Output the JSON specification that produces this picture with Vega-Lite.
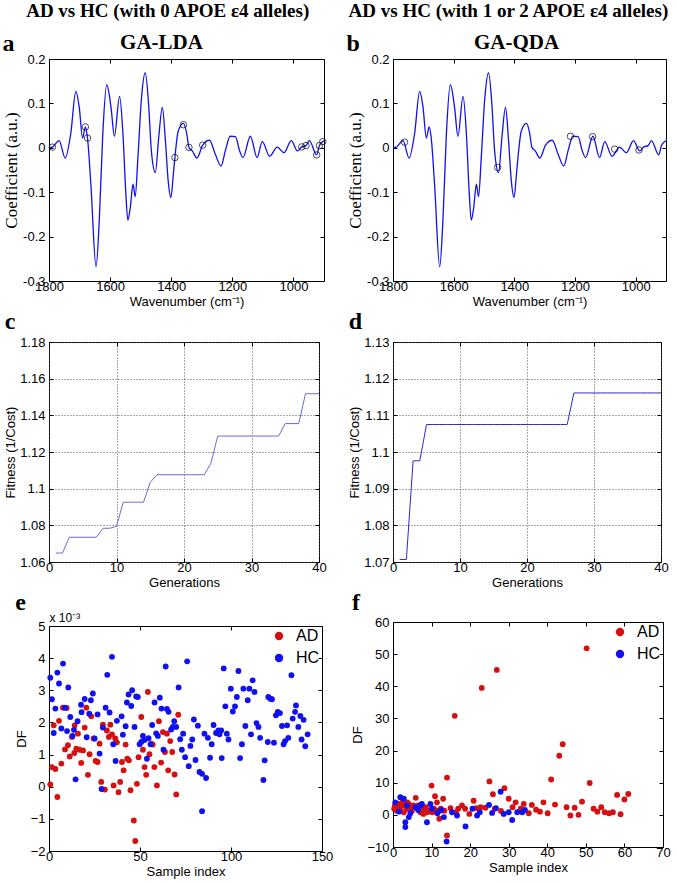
{
"$schema": "https://vega.github.io/schema/vega-lite/v6.json",
"padding": {"left": 2, "top": 2, "right": 2, "bottom": 0},
"background": "white",
"config": {
  "view": {"stroke": "#000", "strokeWidth": 1},
  "axis": {"domain": false, "grid": false, "tickColor": "#000", "tickSize": -4, "labelColor": "#000", "titleColor": "#000", "labelFont": "Liberation Sans", "titleFont": "Liberation Sans", "titleFontWeight": "normal", "labelFontSize": 13, "titleFontSize": 13, "labelPadding": 3, "titlePadding": 2, "labelFlush": false, "labelOverlap": false, "labelBound": false},
  "axisLeft": {"labelPadding": 8},
  "title": {"font": "Liberation Serif", "fontWeight": "bold", "color": "#000"},
  "legend": {"labelFont": "Liberation Sans", "labelFontSize": 16, "labelColor": "#000", "symbolSize": 70, "symbolType": "circle", "rowPadding": 6, "labelOffset": 9, "offset": 2}
},
"datasets": {
  "spectrum": [
    {"wn":1800,"coef":0.0},{"wn":1789,"coef":0.0015},{"wn":1767,"coef":0.016},{"wn":1747,"coef":-0.023},{"wn":1729,"coef":0.031},{"wn":1712,"coef":0.127},{"wn":1701,"coef":0.091},{"wn":1690,"coef":0.022},{"wn":1681,"coef":0.047},{"wn":1674,"coef":0.022},{"wn":1663,"coef":-0.082},{"wn":1646,"coef":-0.268},{"wn":1635,"coef":-0.157},{"wn":1624,"coef":0.031},{"wn":1611,"coef":0.142},{"wn":1597,"coef":0.091},{"wn":1586,"coef":0.026},{"wn":1569,"coef":0.116},{"wn":1558,"coef":0.031},{"wn":1549,"coef":-0.097},{"wn":1542,"coef":-0.163},{"wn":1534,"coef":-0.135},{"wn":1525,"coef":-0.082},{"wn":1518,"coef":-0.110},{"wn":1509,"coef":-0.022},{"wn":1498,"coef":0.106},{"wn":1485,"coef":0.169},{"wn":1474,"coef":0.098},{"wn":1465,"coef":-0.007},{"wn":1452,"coef":-0.056},{"wn":1441,"coef":0.023},{"wn":1429,"coef":0.091},{"wn":1419,"coef":0.016},{"wn":1410,"coef":-0.074},{"wn":1401,"coef":-0.112},{"wn":1393,"coef":-0.059},{"wn":1388,"coef":-0.022},{"wn":1377,"coef":0.038},{"wn":1360,"coef":0.055},{"wn":1349,"coef":0.031},{"wn":1342,"coef":0.001},{"wn":1331,"coef":-0.007},{"wn":1316,"coef":-0.023},{"wn":1297,"coef":0.006},{"wn":1275,"coef":0.017},{"wn":1256,"coef":-0.014},{"wn":1237,"coef":-0.041},{"wn":1223,"coef":-0.007},{"wn":1207,"coef":0.026},{"wn":1190,"coef":0.025},{"wn":1176,"coef":-0.007},{"wn":1165,"coef":-0.022},{"wn":1141,"coef":0.026},{"wn":1119,"coef":-0.022},{"wn":1102,"coef":0.014},{"wn":1078,"coef":-0.019},{"wn":1053,"coef":0.0015},{"wn":1031,"coef":-0.011},{"wn":1007,"coef":0.016},{"wn":987,"coef":-0.007},{"wn":973,"coef":0.002},{"wn":959,"coef":0.005},{"wn":948,"coef":0.016},{"wn":924,"coef":-0.016},{"wn":915,"coef":0.005},{"wn":904,"coef":0.014},{"wn":897,"coef":0.017}
  ],
  "selA": [
    {"wn":1789,"coef":0.0015},{"wn":1681,"coef":0.047},{"wn":1674,"coef":0.022},{"wn":1388,"coef":-0.022},{"wn":1360,"coef":0.052},{"wn":1342,"coef":0.001},{"wn":1297,"coef":0.006},{"wn":973,"coef":0.002},{"wn":959,"coef":0.005},{"wn":924,"coef":-0.016},{"wn":915,"coef":0.005},{"wn":904,"coef":0.014}
  ],
  "selB": [
    {"wn":1762,"coef":0.0127},{"wn":1455,"coef":-0.044},{"wn":1215,"coef":0.026},{"wn":1142,"coef":0.025},{"wn":1069,"coef":-0.003},{"wn":989,"coef":-0.005}
  ],
  "fitC": [
    {"gen":1,"fit":1.0649},{"gen":2,"fit":1.0649},{"gen":3,"fit":1.0735},{"gen":4,"fit":1.0735},{"gen":5,"fit":1.0735},{"gen":6,"fit":1.0735},{"gen":7,"fit":1.0735},{"gen":8,"fit":1.0784},{"gen":9,"fit":1.0784},{"gen":10,"fit":1.0795},{"gen":11,"fit":1.0926},{"gen":12,"fit":1.0926},{"gen":13,"fit":1.0926},{"gen":14,"fit":1.0926},{"gen":15,"fit":1.1035},{"gen":16,"fit":1.1076},{"gen":17,"fit":1.1076},{"gen":18,"fit":1.1076},{"gen":19,"fit":1.1076},{"gen":20,"fit":1.1076},{"gen":21,"fit":1.1076},{"gen":22,"fit":1.1076},{"gen":23,"fit":1.1076},{"gen":24,"fit":1.114},{"gen":25,"fit":1.1287},{"gen":26,"fit":1.1287},{"gen":27,"fit":1.1287},{"gen":28,"fit":1.1287},{"gen":29,"fit":1.1287},{"gen":30,"fit":1.1287},{"gen":31,"fit":1.1287},{"gen":32,"fit":1.1287},{"gen":33,"fit":1.1287},{"gen":34,"fit":1.1287},{"gen":35,"fit":1.1355},{"gen":36,"fit":1.1355},{"gen":37,"fit":1.1355},{"gen":38,"fit":1.1518},{"gen":39,"fit":1.1518},{"gen":40,"fit":1.1518}
  ],
  "fitD": [
    {"gen":1,"fit":1.0707},{"gen":2,"fit":1.0707},{"gen":3,"fit":1.0976},{"gen":4,"fit":1.0976},{"gen":5,"fit":1.1075},{"gen":6,"fit":1.1075},{"gen":7,"fit":1.1075},{"gen":8,"fit":1.1075},{"gen":9,"fit":1.1075},{"gen":10,"fit":1.1075},{"gen":11,"fit":1.1075},{"gen":12,"fit":1.1075},{"gen":13,"fit":1.1075},{"gen":14,"fit":1.1075},{"gen":15,"fit":1.1075},{"gen":16,"fit":1.1075},{"gen":17,"fit":1.1075},{"gen":18,"fit":1.1075},{"gen":19,"fit":1.1075},{"gen":20,"fit":1.1075},{"gen":21,"fit":1.1075},{"gen":22,"fit":1.1075},{"gen":23,"fit":1.1075},{"gen":24,"fit":1.1075},{"gen":25,"fit":1.1075},{"gen":26,"fit":1.1075},{"gen":27,"fit":1.1161},{"gen":28,"fit":1.1161},{"gen":29,"fit":1.1161},{"gen":30,"fit":1.1161},{"gen":31,"fit":1.1161},{"gen":32,"fit":1.1161},{"gen":33,"fit":1.1161},{"gen":34,"fit":1.1161},{"gen":35,"fit":1.1161},{"gen":36,"fit":1.1161},{"gen":37,"fit":1.1161},{"gen":38,"fit":1.1161},{"gen":39,"fit":1.1161},{"gen":40,"fit":1.1161}
  ],
  "dfE": [
    {"i":0.7,"v":0.07,"g":"AD"},{"i":1.6,"v":0.61,"g":"AD"},{"i":2.6,"v":1.91,"g":"AD"},{"i":3.5,"v":0.55,"g":"AD"},{"i":4.6,"v":-0.32,"g":"AD"},{"i":5.5,"v":2.05,"g":"AD"},{"i":6.8,"v":0.72,"g":"AD"},{"i":7.7,"v":2.46,"g":"AD"},{"i":8.8,"v":1.16,"g":"AD"},{"i":9.7,"v":2.45,"g":"AD"},{"i":10.4,"v":1.29,"g":"AD"},{"i":11.4,"v":0.94,"g":"AD"},{"i":12.6,"v":1.55,"g":"AD"},{"i":13.9,"v":1.05,"g":"AD"},{"i":14.1,"v":1.91,"g":"AD"},{"i":15.0,"v":1.18,"g":"AD"},{"i":15.9,"v":1.65,"g":"AD"},{"i":16.8,"v":1.15,"g":"AD"},{"i":17.7,"v":0.74,"g":"AD"},{"i":18.7,"v":1.13,"g":"AD"},{"i":19.6,"v":1.84,"g":"AD"},{"i":20.5,"v":2.46,"g":"AD"},{"i":21.4,"v":0.37,"g":"AD"},{"i":22.3,"v":1.01,"g":"AD"},{"i":23.2,"v":2.19,"g":"AD"},{"i":24.5,"v":1.50,"g":"AD"},{"i":25.6,"v":0.80,"g":"AD"},{"i":26.7,"v":0.77,"g":"AD"},{"i":27.8,"v":1.34,"g":"AD"},{"i":28.7,"v":0.15,"g":"AD"},{"i":29.6,"v":1.93,"g":"AD"},{"i":30.7,"v":-0.09,"g":"AD"},{"i":31.8,"v":1.75,"g":"AD"},{"i":32.9,"v":1.55,"g":"AD"},{"i":33.7,"v":1.93,"g":"AD"},{"i":34.6,"v":1.63,"g":"AD"},{"i":35.5,"v":0.04,"g":"AD"},{"i":36.4,"v":1.50,"g":"AD"},{"i":37.3,"v":1.38,"g":"AD"},{"i":38.2,"v":-0.17,"g":"AD"},{"i":39.1,"v":0.15,"g":"AD"},{"i":40.1,"v":0.77,"g":"AD"},{"i":41.0,"v":0.51,"g":"AD"},{"i":42.1,"v":1.31,"g":"AD"},{"i":43.0,"v":0.87,"g":"AD"},{"i":43.9,"v":0.82,"g":"AD"},{"i":44.8,"v":-0.11,"g":"AD"},{"i":46.6,"v":-1.05,"g":"AD"},{"i":47.4,"v":-1.69,"g":"AD"},{"i":48.3,"v":0.09,"g":"AD"},{"i":49.2,"v":0.92,"g":"AD"},{"i":50.7,"v":2.17,"g":"AD"},{"i":51.6,"v":1.15,"g":"AD"},{"i":52.5,"v":0.61,"g":"AD"},{"i":53.4,"v":0.37,"g":"AD"},{"i":54.3,"v":2.95,"g":"AD"},{"i":55.2,"v":1.01,"g":"AD"},{"i":56.2,"v":1.34,"g":"AD"},{"i":57.0,"v":1.31,"g":"AD"},{"i":57.9,"v":0.61,"g":"AD"},{"i":59.3,"v":0.04,"g":"AD"},{"i":60.4,"v":2.04,"g":"AD"},{"i":61.6,"v":0.75,"g":"AD"},{"i":62.6,"v":1.70,"g":"AD"},{"i":63.7,"v":1.08,"g":"AD"},{"i":64.8,"v":1.65,"g":"AD"},{"i":65.5,"v":0.51,"g":"AD"},{"i":66.6,"v":1.42,"g":"AD"},{"i":67.7,"v":1.08,"g":"AD"},{"i":69.0,"v":0.38,"g":"AD"},{"i":69.9,"v":-0.24,"g":"AD"},{"i":71.0,"v":2.24,"g":"AD"},
    {"i":0.7,"v":3.39,"g":"HC"},{"i":1.6,"v":2.72,"g":"HC"},{"i":2.6,"v":1.67,"g":"HC"},{"i":3.5,"v":2.43,"g":"HC"},{"i":4.6,"v":3.55,"g":"HC"},{"i":5.5,"v":3.21,"g":"HC"},{"i":6.8,"v":1.81,"g":"HC"},{"i":7.7,"v":3.83,"g":"HC"},{"i":8.8,"v":2.46,"g":"HC"},{"i":9.9,"v":1.73,"g":"HC"},{"i":10.6,"v":3.09,"g":"HC"},{"i":11.7,"v":2.17,"g":"HC"},{"i":12.9,"v":1.58,"g":"HC"},{"i":13.7,"v":1.77,"g":"HC"},{"i":14.6,"v":0.23,"g":"HC"},{"i":15.7,"v":2.04,"g":"HC"},{"i":17.6,"v":2.55,"g":"HC"},{"i":17.9,"v":2.32,"g":"HC"},{"i":19.6,"v":2.73,"g":"HC"},{"i":20.7,"v":1.54,"g":"HC"},{"i":22.1,"v":2.27,"g":"HC"},{"i":23.0,"v":2.69,"g":"HC"},{"i":24.1,"v":2.90,"g":"HC"},{"i":25.1,"v":1.50,"g":"HC"},{"i":26.7,"v":2.25,"g":"HC"},{"i":27.8,"v":1.03,"g":"HC"},{"i":28.9,"v":-0.07,"g":"HC"},{"i":29.6,"v":1.84,"g":"HC"},{"i":31.1,"v":2.46,"g":"HC"},{"i":32.0,"v":3.48,"g":"HC"},{"i":33.3,"v":2.31,"g":"HC"},{"i":34.6,"v":4.04,"g":"HC"},{"i":35.3,"v":1.32,"g":"HC"},{"i":36.6,"v":0.80,"g":"HC"},{"i":37.3,"v":2.05,"g":"HC"},{"i":39.9,"v":2.19,"g":"HC"},{"i":40.6,"v":1.62,"g":"HC"},{"i":42.1,"v":1.88,"g":"HC"},{"i":42.8,"v":2.62,"g":"HC"},{"i":43.7,"v":2.87,"g":"HC"},{"i":45.2,"v":2.51,"g":"HC"},{"i":45.7,"v":3.00,"g":"HC"},{"i":47.0,"v":1.86,"g":"HC"},{"i":47.9,"v":2.81,"g":"HC"},{"i":48.8,"v":2.79,"g":"HC"},{"i":49.8,"v":1.32,"g":"HC"},{"i":50.7,"v":1.39,"g":"HC"},{"i":51.6,"v":1.58,"g":"HC"},{"i":52.5,"v":1.45,"g":"HC"},{"i":53.8,"v":0.87,"g":"HC"},{"i":54.7,"v":1.51,"g":"HC"},{"i":55.8,"v":1.32,"g":"HC"},{"i":56.7,"v":1.92,"g":"HC"},{"i":58.0,"v":2.62,"g":"HC"},{"i":58.9,"v":1.66,"g":"HC"},{"i":59.8,"v":1.58,"g":"HC"},{"i":60.9,"v":2.77,"g":"HC"},{"i":61.8,"v":2.43,"g":"HC"},{"i":62.9,"v":1.15,"g":"HC"},{"i":64.1,"v":3.74,"g":"HC"},{"i":64.8,"v":2.42,"g":"HC"},{"i":65.7,"v":2.33,"g":"HC"},{"i":67.1,"v":1.78,"g":"HC"},{"i":68.0,"v":1.86,"g":"HC"},{"i":68.8,"v":2.04,"g":"HC"},{"i":69.9,"v":1.86,"g":"HC"},{"i":71.2,"v":3.09,"g":"HC"},{"i":72.1,"v":1.48,"g":"HC"},{"i":73.0,"v":1.15,"g":"HC"},{"i":73.7,"v":1.65,"g":"HC"},{"i":74.8,"v":0.92,"g":"HC"},{"i":75.9,"v":3.90,"g":"HC"},{"i":76.8,"v":0.64,"g":"HC"},{"i":77.7,"v":1.27,"g":"HC"},{"i":78.7,"v":1.47,"g":"HC"},{"i":79.6,"v":2.09,"g":"HC"},{"i":80.5,"v":0.83,"g":"HC"},{"i":81.8,"v":1.90,"g":"HC"},{"i":82.7,"v":0.46,"g":"HC"},{"i":84.1,"v":0.40,"g":"HC"},{"i":84.1,"v":-0.76,"g":"HC"},{"i":85.4,"v":1.65,"g":"HC"},{"i":86.3,"v":0.27,"g":"HC"},{"i":87.3,"v":1.52,"g":"HC"},{"i":88.5,"v":0.90,"g":"HC"},{"i":89.4,"v":1.32,"g":"HC"},{"i":90.4,"v":1.92,"g":"HC"},{"i":91.8,"v":1.67,"g":"HC"},{"i":93.1,"v":1.75,"g":"HC"},{"i":93.7,"v":1.63,"g":"HC"},{"i":94.6,"v":1.75,"g":"HC"},{"i":94.9,"v":0.89,"g":"HC"},{"i":96.0,"v":3.68,"g":"HC"},{"i":96.9,"v":2.50,"g":"HC"},{"i":97.7,"v":1.65,"g":"HC"},{"i":98.6,"v":1.47,"g":"HC"},{"i":99.9,"v":3.05,"g":"HC"},{"i":101.0,"v":2.34,"g":"HC"},{"i":102.2,"v":2.50,"g":"HC"},{"i":103.2,"v":2.79,"g":"HC"},{"i":104.1,"v":3.60,"g":"HC"},{"i":105.0,"v":0.89,"g":"HC"},{"i":106.0,"v":1.32,"g":"HC"},{"i":106.8,"v":3.05,"g":"HC"},{"i":107.9,"v":1.89,"g":"HC"},{"i":109.2,"v":2.69,"g":"HC"},{"i":110.1,"v":3.05,"g":"HC"},{"i":111.0,"v":1.63,"g":"HC"},{"i":111.9,"v":3.31,"g":"HC"},{"i":112.9,"v":2.95,"g":"HC"},{"i":114.0,"v":1.98,"g":"HC"},{"i":115.1,"v":1.86,"g":"HC"},{"i":116.0,"v":1.52,"g":"HC"},{"i":117.8,"v":0.21,"g":"HC"},{"i":118.5,"v":0.82,"g":"HC"},{"i":120.2,"v":1.39,"g":"HC"},{"i":120.5,"v":2.79,"g":"HC"},{"i":121.6,"v":2.74,"g":"HC"},{"i":122.5,"v":2.72,"g":"HC"},{"i":123.6,"v":1.37,"g":"HC"},{"i":124.7,"v":2.22,"g":"HC"},{"i":125.7,"v":2.33,"g":"HC"},{"i":126.9,"v":2.29,"g":"HC"},{"i":128.0,"v":1.89,"g":"HC"},{"i":128.9,"v":1.32,"g":"HC"},{"i":129.7,"v":1.42,"g":"HC"},{"i":130.8,"v":1.91,"g":"HC"},{"i":131.5,"v":1.52,"g":"HC"},{"i":133.2,"v":3.47,"g":"HC"},{"i":133.9,"v":2.12,"g":"HC"},{"i":135.2,"v":2.33,"g":"HC"},{"i":135.7,"v":2.53,"g":"HC"},{"i":137.0,"v":1.86,"g":"HC"},{"i":138.1,"v":2.20,"g":"HC"},{"i":138.8,"v":1.47,"g":"HC"},{"i":139.9,"v":2.08,"g":"HC"},{"i":140.8,"v":1.26,"g":"HC"},{"i":142.1,"v":1.63,"g":"HC"}
  ],
  "dfF": [
    {"i":0.3,"v":1.9,"g":"AD"},{"i":0.6,"v":2.4,"g":"AD"},{"i":0.5,"v":2.9,"g":"AD"},{"i":1.0,"v":1.3,"g":"AD"},{"i":1.4,"v":3.4,"g":"AD"},{"i":1.5,"v":1.3,"g":"AD"},{"i":2.0,"v":2.4,"g":"AD"},{"i":2.3,"v":2.9,"g":"AD"},{"i":2.4,"v":3.9,"g":"AD"},{"i":2.8,"v":0.8,"g":"AD"},{"i":3.3,"v":2.9,"g":"AD"},{"i":3.6,"v":1.9,"g":"AD"},{"i":3.7,"v":3.9,"g":"AD"},{"i":4.1,"v":3.4,"g":"AD"},{"i":4.2,"v":1.9,"g":"AD"},{"i":4.6,"v":2.4,"g":"AD"},{"i":4.9,"v":1.3,"g":"AD"},{"i":5.3,"v":2.9,"g":"AD"},{"i":5.8,"v":2.4,"g":"AD"},{"i":5.9,"v":5.3,"g":"AD"},{"i":6.5,"v":2.9,"g":"AD"},{"i":7.1,"v":0.8,"g":"AD"},{"i":7.2,"v":3.2,"g":"AD"},{"i":7.9,"v":0.3,"g":"AD"},{"i":8.0,"v":1.9,"g":"AD"},{"i":8.5,"v":2.4,"g":"AD"},{"i":8.9,"v":0.8,"g":"AD"},{"i":9.3,"v":1.3,"g":"AD"},{"i":10.0,"v":9.1,"g":"AD"},{"i":10.2,"v":0.8,"g":"AD"},{"i":10.6,"v":1.9,"g":"AD"},{"i":10.9,"v":5.8,"g":"AD"},{"i":11.4,"v":3.9,"g":"AD"},{"i":11.4,"v":1.3,"g":"AD"},{"i":12.0,"v":-1.2,"g":"AD"},{"i":12.3,"v":1.3,"g":"AD"},{"i":12.4,"v":1.9,"g":"AD"},{"i":13.0,"v":5.0,"g":"AD"},{"i":13.3,"v":1.3,"g":"AD"},{"i":14.0,"v":11.6,"g":"AD"},{"i":14.0,"v":-6.4,"g":"AD"},{"i":14.9,"v":2.1,"g":"AD"},{"i":16.0,"v":30.8,"g":"AD"},{"i":16.3,"v":0.8,"g":"AD"},{"i":16.9,"v":1.9,"g":"AD"},{"i":17.9,"v":2.9,"g":"AD"},{"i":18.7,"v":1.9,"g":"AD"},{"i":19.8,"v":0.3,"g":"AD"},{"i":20.9,"v":4.4,"g":"AD"},{"i":21.6,"v":2.1,"g":"AD"},{"i":22.7,"v":2.4,"g":"AD"},{"i":23.0,"v":39.5,"g":"AD"},{"i":24.0,"v":2.2,"g":"AD"},{"i":25.0,"v":10.4,"g":"AD"},{"i":25.9,"v":6.4,"g":"AD"},{"i":26.4,"v":1.9,"g":"AD"},{"i":26.9,"v":45.1,"g":"AD"},{"i":28.0,"v":1.2,"g":"AD"},{"i":28.9,"v":8.3,"g":"AD"},{"i":30.0,"v":5.0,"g":"AD"},{"i":31.0,"v":2.4,"g":"AD"},{"i":31.8,"v":3.9,"g":"AD"},{"i":33.1,"v":1.9,"g":"AD"},{"i":33.9,"v":3.4,"g":"AD"},{"i":35.2,"v":0.5,"g":"AD"},{"i":36.0,"v":3.1,"g":"AD"},{"i":37.1,"v":1.6,"g":"AD"},{"i":38.1,"v":1.0,"g":"AD"},{"i":39.0,"v":3.9,"g":"AD"},{"i":40.1,"v":0.5,"g":"AD"},{"i":41.0,"v":11.0,"g":"AD"},{"i":42.0,"v":3.2,"g":"AD"},{"i":43.1,"v":18.4,"g":"AD"},{"i":44.0,"v":22.0,"g":"AD"},{"i":45.0,"v":2.4,"g":"AD"},{"i":46.0,"v":-0.2,"g":"AD"},{"i":47.1,"v":2.2,"g":"AD"},{"i":48.1,"v":0.0,"g":"AD"},{"i":49.0,"v":4.1,"g":"AD"},{"i":50.2,"v":51.8,"g":"AD"},{"i":51.0,"v":9.9,"g":"AD"},{"i":52.0,"v":1.9,"g":"AD"},{"i":53.0,"v":1.0,"g":"AD"},{"i":54.0,"v":2.4,"g":"AD"},{"i":54.9,"v":0.8,"g":"AD"},{"i":56.0,"v":0.5,"g":"AD"},{"i":57.0,"v":0.8,"g":"AD"},{"i":58.1,"v":6.2,"g":"AD"},{"i":59.0,"v":0.2,"g":"AD"},{"i":60.0,"v":4.8,"g":"AD"},{"i":61.0,"v":6.5,"g":"AD"},
    {"i":0.6,"v":3.9,"g":"HC"},{"i":1.5,"v":1.0,"g":"HC"},{"i":1.9,"v":5.5,"g":"HC"},{"i":2.8,"v":5.0,"g":"HC"},{"i":3.2,"v":-2.3,"g":"HC"},{"i":3.2,"v":-3.8,"g":"HC"},{"i":3.6,"v":2.9,"g":"HC"},{"i":4.1,"v":-0.7,"g":"HC"},{"i":4.5,"v":0.5,"g":"HC"},{"i":5.8,"v":2.4,"g":"HC"},{"i":6.5,"v":1.5,"g":"HC"},{"i":7.1,"v":2.9,"g":"HC"},{"i":7.5,"v":3.4,"g":"HC"},{"i":8.8,"v":-2.3,"g":"HC"},{"i":9.7,"v":3.4,"g":"HC"},{"i":10.1,"v":1.9,"g":"HC"},{"i":11.5,"v":0.5,"g":"HC"},{"i":12.5,"v":1.5,"g":"HC"},{"i":13.2,"v":-0.7,"g":"HC"},{"i":13.9,"v":-8.3,"g":"HC"},{"i":15.3,"v":0.8,"g":"HC"},{"i":16.6,"v":-0.2,"g":"HC"},{"i":18.8,"v":-3.6,"g":"HC"},{"i":20.6,"v":1.9,"g":"HC"},{"i":21.8,"v":-0.2,"g":"HC"},{"i":22.5,"v":0.8,"g":"HC"},{"i":24.9,"v":3.1,"g":"HC"},{"i":25.7,"v":0.6,"g":"HC"},{"i":26.7,"v":2.1,"g":"HC"},{"i":27.9,"v":7.2,"g":"HC"},{"i":28.7,"v":0.3,"g":"HC"},{"i":30.0,"v":0.8,"g":"HC"},{"i":30.9,"v":-1.6,"g":"HC"},{"i":32.2,"v":0.8,"g":"HC"},{"i":33.5,"v":0.8,"g":"HC"},{"i":34.2,"v":1.5,"g":"HC"}
  ]
},
"spacing": 12,
"resolve": {"scale": {"color": "independent"}, "legend": {"color": "independent"}},
"hconcat": [
  {
    "title": {"text": "AD vs HC (with 0 APOE ε4 alleles)", "fontSize": 19, "anchor": "middle", "offset": 10},
    "spacing": 0,
    "resolve": {"scale": {"color": "independent"}, "legend": {"color": "independent"}},
    "vconcat": [
      {
        "width": 275, "height": 222,
        "title": {"text": "a", "anchor": "start", "frame": "bounds", "fontSize": 24, "offset": -24},
        "resolve": {"axis": {"x": "independent", "y": "independent"}},
        "layer": [
          {"data": {"name": "spectrum"}, "mark": {"type": "line", "color": "#1010f0", "strokeWidth": 1.3, "interpolate": "monotone"},
           "encoding": {
             "x": {"field": "wn", "type": "quantitative", "scale": {"domain": [900, 1800], "reverse": true, "nice": false}, "axis": {"orient": "bottom", "values": [1800, 1600, 1400, 1200, 1000], "format": "d", "title": "Wavenumber (cm⁻¹)"}},
             "y": {"field": "coef", "type": "quantitative", "scale": {"domain": [-0.3, 0.2], "nice": false, "zero": false}, "axis": {"orient": "left", "values": [-0.3, -0.2, -0.1, 0, 0.1, 0.2], "labelExpr": "toString(round(datum.value*10)/10)", "title": "Coefficient (a.u.)", "titleFont": "Liberation Serif", "titleFontSize": 17}}
           }},
          {"data": {"name": "selA"}, "mark": {"type": "point", "shape": "circle", "filled": false, "color": "#000", "size": 42, "strokeWidth": 1},
           "encoding": {
             "x": {"field": "wn", "type": "quantitative", "axis": {"orient": "top", "values": [1800, 1600, 1400, 1200, 1000], "labels": false, "title": "GA-LDA", "titleFont": "Liberation Serif", "titleFontWeight": "bold", "titleFontSize": 21, "titlePadding": 6, "titleX": 112}},
             "y": {"field": "coef", "type": "quantitative", "axis": {"orient": "right", "values": [-0.3, -0.2, -0.1, 0, 0.1, 0.2], "labels": false, "title": null}}
           }}
        ]
      },
      {
        "width": 270, "height": 220,
        "title": {"text": "c", "anchor": "start", "frame": "bounds", "fontSize": 24, "offset": 2},
        "resolve": {"axis": {"x": "independent", "y": "independent"}},
        "layer": [
          {"data": {"name": "fitC"}, "mark": {"type": "line", "color": "#6a6ae0", "strokeWidth": 1},
           "encoding": {
             "x": {"field": "gen", "type": "quantitative", "scale": {"domain": [0, 40], "nice": false}, "axis": {"orient": "bottom", "values": [0, 10, 20, 30, 40], "grid": true, "gridDash": [1, 2], "gridColor": "#555", "title": "Generations"}},
             "y": {"field": "fit", "type": "quantitative", "scale": {"domain": [1.06, 1.18], "nice": false, "zero": false}, "axis": {"orient": "left", "values": [1.06, 1.08, 1.1, 1.12, 1.14, 1.16, 1.18], "labelExpr": "toString(round(datum.value*1000)/1000)", "grid": true, "gridDash": [1, 2], "gridColor": "#555", "title": "Fitness (1/Cost)"}}
           }},
          {"data": {"name": "fitC"}, "mark": {"type": "point", "opacity": 0},
           "encoding": {
             "x": {"field": "gen", "type": "quantitative", "axis": {"orient": "top", "values": [0, 10, 20, 30, 40], "labels": false, "title": null}},
             "y": {"field": "fit", "type": "quantitative", "axis": {"orient": "right", "values": [1.06, 1.08, 1.1, 1.12, 1.14, 1.16, 1.18], "labels": false, "title": null}}
           }}
        ]
      },
      {
        "width": 273, "height": 225,
        "title": {"text": "e", "anchor": "start", "frame": "bounds", "fontSize": 24, "offset": -3},
        "resolve": {"axis": {"x": "independent", "y": "independent"}},
        "layer": [
          {"data": {"name": "dfE"}, "mark": {"type": "circle", "size": 34, "opacity": 1},
           "encoding": {
             "x": {"field": "i", "type": "quantitative", "scale": {"domain": [0, 150], "nice": false}, "axis": {"orient": "bottom", "values": [0, 50, 100, 150], "title": "Sample index"}},
             "y": {"field": "v", "type": "quantitative", "scale": {"domain": [-2, 5], "nice": false, "zero": false}, "axis": {"orient": "left", "values": [-2, -1, 0, 1, 2, 3, 4, 5], "title": "DF"}},
             "color": {"field": "g", "type": "nominal", "scale": {"domain": ["AD", "HC"], "range": ["#d41010", "#1010f0"]}, "legend": {"title": null, "orient": "top-right"}}
           }},
          {"data": {"name": "dfE"}, "mark": {"type": "point", "opacity": 0},
           "encoding": {
             "x": {"field": "i", "type": "quantitative", "axis": {"orient": "top", "values": [0, 50, 100, 150], "labels": false, "title": "x 10⁻³", "titleAnchor": "start", "titleFontSize": 12, "titlePadding": 1}},
             "y": {"field": "v", "type": "quantitative", "axis": {"orient": "right", "values": [-2, -1, 0, 1, 2, 3, 4, 5], "labels": false, "title": null}}
           }}
        ]
      }
    ]
  },
  {
    "title": {"text": "AD vs HC (with 1 or 2 APOE ε4 alleles)", "fontSize": 19, "anchor": "middle", "offset": 10},
    "spacing": 0,
    "resolve": {"scale": {"color": "independent"}, "legend": {"color": "independent"}},
    "vconcat": [
      {
        "width": 273, "height": 222,
        "title": {"text": "b", "anchor": "start", "frame": "bounds", "fontSize": 24, "offset": -24},
        "resolve": {"axis": {"x": "independent", "y": "independent"}},
        "layer": [
          {"data": {"name": "spectrum"}, "mark": {"type": "line", "color": "#1010f0", "strokeWidth": 1.3, "interpolate": "monotone"},
           "encoding": {
             "x": {"field": "wn", "type": "quantitative", "scale": {"domain": [900, 1800], "reverse": true, "nice": false}, "axis": {"orient": "bottom", "values": [1800, 1600, 1400, 1200, 1000], "format": "d", "title": "Wavenumber (cm⁻¹)"}},
             "y": {"field": "coef", "type": "quantitative", "scale": {"domain": [-0.3, 0.2], "nice": false, "zero": false}, "axis": {"orient": "left", "values": [-0.3, -0.2, -0.1, 0, 0.1, 0.2], "labelExpr": "toString(round(datum.value*10)/10)", "title": "Coefficient (a.u.)", "titleFont": "Liberation Serif", "titleFontSize": 17}}
           }},
          {"data": {"name": "selB"}, "mark": {"type": "point", "shape": "circle", "filled": false, "color": "#000", "size": 42, "strokeWidth": 1},
           "encoding": {
             "x": {"field": "wn", "type": "quantitative", "axis": {"orient": "top", "values": [1800, 1600, 1400, 1200, 1000], "labels": false, "title": "GA-QDA", "titleFont": "Liberation Serif", "titleFontWeight": "bold", "titleFontSize": 21, "titlePadding": 6, "titleX": 123}},
             "y": {"field": "coef", "type": "quantitative", "axis": {"orient": "right", "values": [-0.3, -0.2, -0.1, 0, 0.1, 0.2], "labels": false, "title": null}}
           }}
        ]
      },
      {
        "width": 268, "height": 220,
        "title": {"text": "d", "anchor": "start", "frame": "bounds", "fontSize": 24, "offset": 2},
        "resolve": {"axis": {"x": "independent", "y": "independent"}},
        "layer": [
          {"data": {"name": "fitD"}, "mark": {"type": "line", "color": "#2a2ad8", "strokeWidth": 1},
           "encoding": {
             "x": {"field": "gen", "type": "quantitative", "scale": {"domain": [0, 40], "nice": false}, "axis": {"orient": "bottom", "values": [0, 10, 20, 30, 40], "grid": true, "gridDash": [1, 2], "gridColor": "#555", "title": "Generations"}},
             "y": {"field": "fit", "type": "quantitative", "scale": {"domain": [1.07, 1.13], "nice": false, "zero": false}, "axis": {"orient": "left", "values": [1.07, 1.08, 1.09, 1.1, 1.11, 1.12, 1.13], "labelExpr": "toString(round(datum.value*1000)/1000)", "grid": true, "gridDash": [1, 2], "gridColor": "#555", "title": "Fitness (1/Cost)"}}
           }},
          {"data": {"name": "fitD"}, "mark": {"type": "point", "opacity": 0},
           "encoding": {
             "x": {"field": "gen", "type": "quantitative", "axis": {"orient": "top", "values": [0, 10, 20, 30, 40], "labels": false, "title": null}},
             "y": {"field": "fit", "type": "quantitative", "axis": {"orient": "right", "values": [1.07, 1.08, 1.09, 1.1, 1.11, 1.12, 1.13], "labels": false, "title": null}}
           }}
        ]
      },
      {
        "width": 270, "height": 225,
        "title": {"text": "f", "anchor": "start", "frame": "bounds", "fontSize": 24, "offset": 1},
        "resolve": {"axis": {"x": "independent", "y": "independent"}},
        "layer": [
          {"data": {"name": "dfF"}, "mark": {"type": "circle", "size": 34, "opacity": 1},
           "encoding": {
             "x": {"field": "i", "type": "quantitative", "scale": {"domain": [0, 70], "nice": false}, "axis": {"orient": "bottom", "values": [0, 10, 20, 30, 40, 50, 60, 70], "title": "Sample index"}},
             "y": {"field": "v", "type": "quantitative", "scale": {"domain": [-10, 60], "nice": false, "zero": false}, "axis": {"orient": "left", "values": [-10, 0, 10, 20, 30, 40, 50, 60], "title": "DF"}},
             "color": {"field": "g", "type": "nominal", "scale": {"domain": ["AD", "HC"], "range": ["#d41010", "#1010f0"]}, "legend": {"title": null, "orient": "top-right"}}
           }},
          {"mark": {"type": "rule", "color": "#000", "strokeWidth": 1},
           "encoding": {
             "x": {"datum": 0, "type": "quantitative", "axis": {"orient": "top", "values": [0, 10, 20, 30, 40, 50, 60, 70], "labels": false, "title": null}},
             "x2": {"datum": 70},
             "y": {"datum": 0, "type": "quantitative", "axis": {"orient": "right", "values": [-10, 0, 10, 20, 30, 40, 50, 60], "labels": false, "title": null}}
           }}
        ]
      }
    ]
  }
]
}
